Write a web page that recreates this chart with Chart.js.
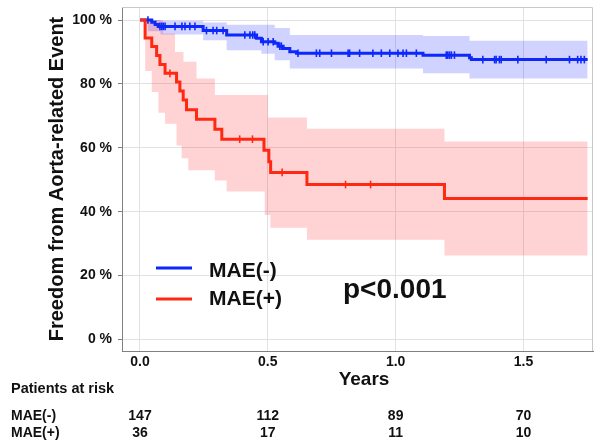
<!DOCTYPE html>
<html><head><meta charset="utf-8">
<script src="https://cdn.jsdelivr.net/npm/chart.js@4.4.1/dist/chart.umd.min.js"></script>
<style>html,body{margin:0;padding:0;background:#fff;overflow:hidden}#wrap{position:relative;width:594px;height:445px}</style>
</head><body><div id="wrap"><canvas id="c" width="594" height="445"></canvas></div>
<script>
// ---- data ----
const xTicks = [0, 0.5, 1.0, 1.5];
const yTicks = [0, 20, 40, 60, 80, 100];

// MAE(-) Kaplan-Meier step function (years, %)
const blueTimes = [0, 0.046, 0.059, 0.071, 0.247, 0.339, 0.456, 0.475, 0.527, 0.540, 0.560, 0.586, 0.612, 1.107, 1.289, 1.296, 1.751];
const blueSurv  = [100, 99.3, 98.6, 98.0, 96.7, 95.3, 94.3, 93.2, 92.7, 91.8, 91.1, 90.1, 89.6, 89.0, 88.2, 87.6, 87.6];
const blueCensor = [0.031, 0.078, 0.085, 0.091, 0.098, 0.137, 0.164, 0.176, 0.195, 0.215, 0.26, 0.286, 0.30, 0.325, 0.41, 0.43, 0.441, 0.449, 0.482, 0.501, 0.521, 0.547, 0.553, 0.618, 0.69, 0.703, 0.749, 0.814, 0.82, 0.859, 0.911, 0.944, 0.977, 1.009, 1.029, 1.042, 1.081, 1.198, 1.204, 1.211, 1.218, 1.23, 1.341, 1.387, 1.393, 1.406, 1.413, 1.478, 1.589, 1.68, 1.712, 1.725, 1.738];
const blueBandT     = [0.03, 0.08, 0.247, 0.339, 0.475, 0.527, 0.586, 1.107, 1.289, 1.751];
const blueBandUpper = [100, 99.8, 99.2, 98.5, 98.5, 97.5, 95.3, 95.0, 93.5, 93.5];
const blueBandLower = [96.5, 95.5, 93.7, 90.5, 89.4, 87.4, 84.8, 83.3, 81.7, 81.7];

// MAE(+) Kaplan-Meier step function (years, %)
const redTimes = [0, 0.02, 0.046, 0.065, 0.078, 0.098, 0.143, 0.156, 0.169, 0.182, 0.221, 0.293, 0.320, 0.485, 0.504, 0.511, 0.653, 1.191, 1.751];
const redSurv  = [100, 94.4, 91.7, 88.9, 86.1, 83.3, 80.6, 77.8, 75.0, 71.9, 68.9, 65.8, 62.7, 59.2, 55.6, 52.3, 48.5, 44.1, 44.1];
const redCensor = [0.117, 0.39, 0.44, 0.556, 0.804, 0.902];
const redBandT     = [0.02, 0.046, 0.072, 0.09, 0.098, 0.137, 0.143, 0.163, 0.17, 0.189, 0.221, 0.293, 0.339, 0.488, 0.5, 0.51, 0.653, 1.191, 1.751];
const redBandUpper = [100, 100, 100, 95.8, 95.8, 90, 90, 90, 86.9, 86.9, 81.7, 76.5, 76.5, 76.5, 69.5, 69.5, 66, 62, 62];
const redBandLower = [84, 77.5, 71, 71, 67.5, 67.5, 60.7, 56.7, 56.7, 53, 53, 49.8, 46.3, 39, 39, 35, 31.2, 26.3, 26.3];

// patients at risk table
const riskTimes = [0, 0.5, 1.0, 1.5];
const riskMinus = [147, 112, 89, 70];
const riskPlus  = [36, 17, 11, 10];
const groupNames = ['MAE(-)', 'MAE(+)'];
const pText = 'p<0.001';

// ---- styles ----
const FONT = "'Liberation Sans', Arial, Helvetica, sans-serif";
const BLUE = 'rgb(12,40,250)';
const RED = 'rgb(255,40,18)';
const BLUE_BAND = 'rgba(20,30,255,0.2)';
const RED_BAND = 'rgba(255,30,40,0.2)';

const pts = (xs, ys) => xs.map((x, i) => ({x: x, y: ys[i]}));
function survAt(times, surv, t) {
  let v = surv[0];
  for (let i = 0; i < times.length; i++) { if (times[i] <= t) v = surv[i]; }
  return v;
}
const censorPts = (cs, times, surv) => cs.map(t => ({x: t, y: survAt(times, surv, t)}));

const bandBase = {borderWidth: 0, borderColor: 'transparent', pointRadius: 0, stepped: 'before'};

const annot = {
  id: 'annot',
  afterDraw(chart) {
    const c = chart.ctx, ca = chart.chartArea, xs = chart.scales.x;
    c.save();
    // light top / right frame
    c.strokeStyle = '#c8c8c8'; c.lineWidth = 1;
    c.beginPath();
    c.moveTo(ca.left, ca.top + 0.5); c.lineTo(ca.right - 0.5, ca.top + 0.5); c.lineTo(ca.right - 0.5, ca.bottom);
    c.stroke();
    // legend
    c.lineWidth = 3;
    c.strokeStyle = BLUE; c.beginPath(); c.moveTo(156, 268); c.lineTo(192, 268); c.stroke();
    c.strokeStyle = RED; c.beginPath(); c.moveTo(156, 299); c.lineTo(192, 299); c.stroke();
    c.fillStyle = '#111';
    c.textBaseline = 'middle'; c.textAlign = 'left';
    c.font = 'bold 21px ' + FONT;
    c.fillText(groupNames[0], 209, 271);
    c.fillText(groupNames[1], 209, 299);
    // p-value
    c.font = 'bold 28px ' + FONT;
    c.textBaseline = 'alphabetic';
    c.fillText(pText, 343, 298);
    // x axis title
    c.textBaseline = 'middle'; c.textAlign = 'center';
    c.font = 'bold 19px ' + FONT;
    c.fillText('Years', 364, 380);
    // risk table
    c.textAlign = 'left';
    c.font = 'bold 14.5px ' + FONT;
    c.fillText('Patients at risk', 11, 389);
    c.font = 'bold 14px ' + FONT;
    c.fillText(groupNames[0], 11, 416);
    c.fillText(groupNames[1], 11, 433);
    c.textAlign = 'center';
    riskTimes.forEach((t, i) => {
      const px = xs.getPixelForValue(t);
      c.fillText(String(riskMinus[i]), px, 416);
      c.fillText(String(riskPlus[i]), px, 433);
    });
    c.restore();
  }
};

new Chart(document.getElementById('c').getContext('2d'), {
  type: 'line',
  data: {
    datasets: [
      Object.assign({label: 'MAE(-) upper', data: pts(blueBandT, blueBandUpper), fill: false, order: 6}, bandBase),
      Object.assign({label: 'MAE(-) lower', data: pts(blueBandT, blueBandLower), fill: '-1', backgroundColor: BLUE_BAND, order: 6}, bandBase),
      Object.assign({label: 'MAE(+) upper', data: pts(redBandT, redBandUpper), fill: false, order: 5}, bandBase),
      Object.assign({label: 'MAE(+) lower', data: pts(redBandT, redBandLower), fill: '-1', backgroundColor: RED_BAND, order: 5}, bandBase),
      {label: 'MAE(-)', data: pts(blueTimes, blueSurv), borderColor: BLUE, borderWidth: 3, pointRadius: 0, stepped: 'before', fill: false, order: 3},
      {label: 'MAE(+)', data: pts(redTimes, redSurv), borderColor: RED, borderWidth: 3, pointRadius: 0, stepped: 'before', fill: false, order: 2},
      {label: 'MAE(-) censored', data: censorPts(blueCensor, blueTimes, blueSurv), showLine: false, pointStyle: 'line', rotation: 90, pointRadius: 3.8, pointBorderWidth: 1.6, pointBorderColor: BLUE, borderColor: BLUE, order: 1},
      {label: 'MAE(+) censored', data: censorPts(redCensor, redTimes, redSurv), showLine: false, pointStyle: 'line', rotation: 90, pointRadius: 3.8, pointBorderWidth: 1.6, pointBorderColor: RED, borderColor: RED, order: 0}
    ]
  },
  options: {
    responsive: false, animation: false, devicePixelRatio: 1,
    layout: {autoPadding: false, padding: {top: 7, right: 1, left: 0, bottom: 0}},
    plugins: {legend: {display: false}, tooltip: {enabled: false}},
    scales: {
      x: {
        type: 'linear', min: -0.0704, max: 1.772,
        afterBuildTicks: s => { s.ticks = xTicks.map(v => ({value: v})); },
        afterFit: s => { s.height = 94; s.paddingLeft = 0; s.paddingRight = 0; },
        grid: {color: '#e2e2e2', drawTicks: false, tickLength: 0},
        border: {color: '#808080', width: 1},
        ticks: {font: {family: FONT, size: 14, weight: 'bold'}, color: '#111', padding: 3, maxRotation: 0, autoSkip: false,
                callback: v => Number(v).toFixed(1)}
      },
      y: {
        min: -3.6, max: 104.07,
        afterBuildTicks: s => { s.ticks = yTicks.map(v => ({value: v})); },
        afterFit: s => { s.width = 122; s.paddingTop = 0; s.paddingBottom = 0; },
        grid: {color: '#e2e2e2', tickLength: 4, tickColor: '#808080'},
        border: {color: '#808080', width: 1},
        ticks: {font: {family: FONT, size: 14, weight: 'bold'}, color: '#111', padding: 6, callback: v => v + ' %'},
        title: {display: true, text: 'Freedom from Aorta-related Event', color: '#111',
                font: {family: FONT, size: 20, weight: 'bold'}, padding: {top: 45, bottom: 0}}
      }
    }
  },
  plugins: [annot]
});
</script></body></html>
